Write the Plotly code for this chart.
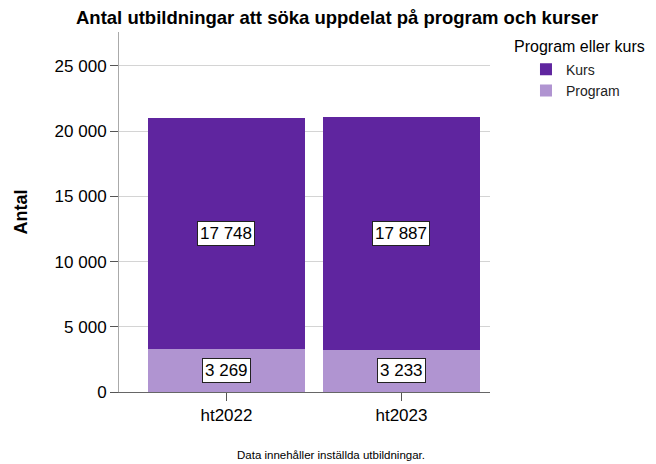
import plotly.graph_objects as go

# data
terms = ["ht2022", "ht2023"]
program = [3269, 3233]
kurs = [17748, 17887]

title = "Antal utbildningar att söka uppdelat på program och kurser"
footnote = "Data innehåller inställda utbildningar."

FONT = "Liberation Sans, Arial, sans-serif"
col_kurs = "#5f259f"
col_prog = "#b094d1"

fig = go.Figure()
fig.add_trace(go.Bar(x=terms, y=program, name="Program", marker=dict(color=col_prog, line_width=0),
                     width=0.9, hoverinfo="y"))
fig.add_trace(go.Bar(x=terms, y=kurs, name="Kurs", marker=dict(color=col_kurs, line_width=0),
                     width=0.9, hoverinfo="y"))

# value boxes centred in each segment
for t, p, k in zip(terms, program, kurs):
    for val, mid in ((p, p / 2), (k, p + k / 2)):
        fig.add_annotation(x=t, y=mid, text=f"{val:,}".replace(",", " "), showarrow=False,
                           font=dict(family=FONT, size=17, color="black"),
                           bgcolor="white", bordercolor="#222", borderwidth=1, borderpad=2)

fig.add_annotation(xref="paper", yref="paper", x=0.587, y=1.039, yanchor="middle",
                   text="<b>" + title + "</b>", showarrow=False,
                   font=dict(family=FONT, size=18.5, color="black"))
fig.add_annotation(xref="paper", yref="paper", x=1.059, y=0.96, xanchor="left", yanchor="middle",
                   text="Program eller kurs", showarrow=False,
                   font=dict(family=FONT, size=16, color="black"))
fig.add_annotation(xref="paper", yref="paper", x=0.571, y=-0.175, yanchor="middle",
                   text=footnote, showarrow=False,
                   font=dict(family=FONT, size=11.5, color="black"))

# the page puts the graph 8px in from the top-left corner
fig.update_layout(
    width=648, height=456,
    barmode="stack",
    separators=", ",
    paper_bgcolor="white", plot_bgcolor="white",
    margin=dict(l=109, r=166, t=24, b=72),
    font=dict(family=FONT, size=16, color="black"),
    showlegend=True,
    legend=dict(x=1.097, y=0.94, xanchor="left", yanchor="top", traceorder="reversed",
                font=dict(family=FONT, size=14, color="#222"), itemwidth=30,
                bgcolor="rgba(0,0,0,0)", tracegroupgap=0),
    xaxis=dict(range=[-0.614, 1.506], showline=True, linecolor="#666", linewidth=1,
               ticks="outside", ticklen=8, tickcolor="#555", showgrid=False,
               tickfont=dict(size=17)),
    yaxis=dict(range=[0, 27600], tickvals=[0, 5000, 10000, 15000, 20000, 25000],
               tickformat=",d", showline=True, linecolor="#aaa", linewidth=1,
               ticks="outside", ticklen=8, tickcolor="#555",
               showgrid=True, gridcolor="#d4d4d4", gridwidth=1, zeroline=False,
               tickfont=dict(size=17),
               title=dict(text="<b>Antal</b>", font=dict(size=18), standoff=22)),
)

fig.write_html("out.html")
